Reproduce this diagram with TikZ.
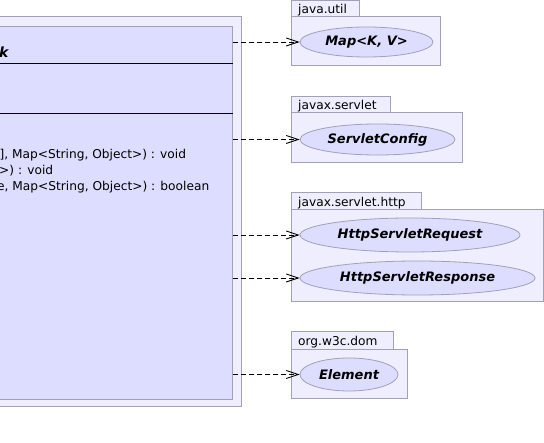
\documentclass[tikz,border=0pt]{standalone}
\usepackage{fontspec}
\setmainfont{DejaVu Sans}
\usetikzlibrary{arrows.meta,shapes.geometric}
\definecolor{pkgfill}{RGB}{238,238,255}
\definecolor{clsfill}{RGB}{221,221,255}
\definecolor{edgecol}{RGB}{160,160,184}
\tikzset{
  pkgbox/.style={draw=edgecol, fill=pkgfill, line width=1pt},
  clsbox/.style={draw=edgecol, fill=clsfill, line width=1pt, rectangle, inner sep=0pt},
  usecase/.style={ellipse, draw=edgecol, fill=clsfill, line width=0.8pt, inner sep=0pt,
    font=\fontsize{13}{15}\selectfont\bfseries\itshape},
  tabtext/.style={anchor=base west, inner sep=0pt, font=\fontsize{12.2}{14}\selectfont},
  methtext/.style={anchor=base west, inner sep=0pt, font=\fontsize{12.2}{14}\selectfont},
  dep/.style={dashed, dash pattern=on 5pt off 3pt, line width=0.9pt, -{Straight Barb[length=12pt,width=8pt,line width=0.9pt]}}
}
\begin{document}
\begin{tikzpicture}[x=1pt,y=-1pt]
\useasboundingbox (0,0) rectangle (544,443);
\begin{scope}
\clip (0,0) rectangle (544,443);
% outer package frame
\draw[pkgbox] (-30,17) rectangle (241,407);
% class box
\node[clsbox, minimum width=263pt, minimum height=373pt, anchor=north east] (cls) at (233,26) {};
\draw[black, line width=1pt] (-30,64) -- (cls.east |- 0,64);
\draw[black, line width=1.8pt] (-30,113.5) -- (cls.east |- 0,113.5);
\node[anchor=base west, inner sep=0pt, font=\fontsize{14}{16}\selectfont\bfseries\itshape] (title) at (-1,58) {k};
\node[methtext] (m1) at (-0.5,159) {], Map<String, Object>) : void};
\node[methtext] (m2) at (-1,175) {>) : void};
\node[methtext] (m3) at (-3,191) {e, Map<String, Object>) : boolean};
\end{scope}

% java.util
\draw[pkgbox] (291,1) rectangle (359,17);
\draw[pkgbox] (291,17) rectangle (440,66);
\node[tabtext] (p1) at (298,13.5) {java.util};
\node[usecase, minimum width=133pt, minimum height=30pt] (map) at (366.5,42) {Map<K, V>};

% javax.servlet
\draw[pkgbox] (291,96.5) rectangle (390,113);
\draw[pkgbox] (291,113) rectangle (462,163);
\node[tabtext] (p2) at (298,110) {javax.servlet};
\node[usecase, minimum width=155pt, minimum height=31pt] (cfg) at (377.5,139.5) {ServletConfig};

% javax.servlet.http
\draw[pkgbox] (291,193) rectangle (421,210);
\draw[pkgbox] (291,210) rectangle (543,302);
\node[tabtext] (p3) at (298,206.5) {javax.servlet.http};
\node[usecase, minimum width=220pt, minimum height=34pt] (req) at (410,235) {HttpServletRequest};
\node[usecase, minimum width=235pt, minimum height=34pt] (resp) at (417.5,278) {HttpServletResponse};

% org.w3c.dom
\draw[pkgbox] (291,332) rectangle (393,350);
\draw[pkgbox] (291,350) rectangle (407,399);
\node[tabtext] (p4) at (298,346) {org.w3c.dom};
\node[usecase, minimum width=98pt, minimum height=33pt] (elem) at (349,374.5) {Element};

% dependencies
\draw[dep] (cls.east |- map.west) -- (map.west);
\draw[dep] (cls.east |- cfg.west) -- (cfg.west);
\draw[dep] (cls.east |- req.west) -- (req.west);
\draw[dep] (cls.east |- resp.west) -- (resp.west);
\draw[dep] (cls.east |- elem.west) -- (elem.west);
\end{tikzpicture}
\end{document}
